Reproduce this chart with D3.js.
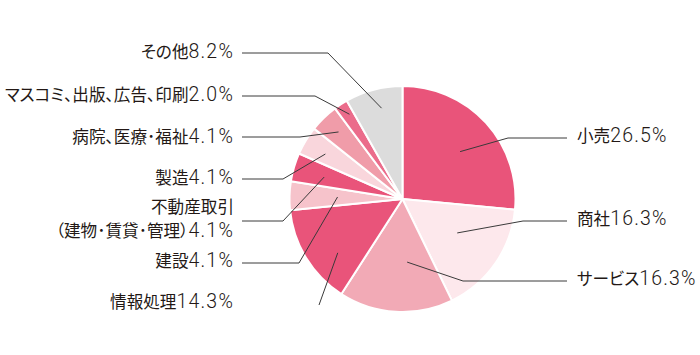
<!DOCTYPE html>
<html><head><meta charset="utf-8">
<script src="https://cdn.jsdelivr.net/npm/d3@7"></script>
<style>
html,body{margin:0;padding:0;background:#fff;}
svg{display:block;}
.jp{font-family:"Noto Sans CJK JP","Noto Sans",sans-serif;font-size:16.6px;font-feature-settings:"palt";}
.num{font-family:Roboto,"Liberation Sans",Arial,sans-serif;font-weight:300;font-size:19.5px;letter-spacing:1.2px;}
</style></head><body>
<svg id="chart" width="700" height="355"></svg>
<script>
// ---- data ----
const categories = ["小売","商社","サービス","情報処理","建設","不動産取引\n（建物･賃貸･管理）","製造","病院、医療･福祉","マスコミ、出版、広告、印刷","その他"];
const values = [26.5,16.3,16.3,14.3,4.1,4.1,4.1,4.1,2.0,8.2];
const valueLabels = ["26.5%","16.3%","16.3%","14.3%","4.1%","4.1%","4.1%","4.1%","2.0%","8.2%"];

// ---- styles / layout ----
const colors = ["#e9547a","#fde8ec","#f2aab6","#e9547a","#f6c3cb","#e9547a","#f9d6dc","#f09ca9","#eb6c8b","#dcdcdc"];
const side = ["r","r","r","l","l","l","l","l","l","l"];
const lineY = [138,221,281,305,263,221,179,137,96,53];
const elbowX = [508,523,463,319,299,283,283,300,315,328];
const anchorR = [0.66,0.57,0.56,0.745,0.575,0.72,0.79,0.82,0.885,0.825];
const anchorT = [0.53,0.45,0.37,0.34,0.51,0.45,0.44,0.53,0.65,0.56];
const baseY = [142,225,285,308,267,237,184,143,101,58];

const svg = d3.select("#chart");
const cx = 402.5, cy = 199, R = 113;
const g = svg.append("g").attr("transform",`translate(${cx},${cy})`);
const pie = d3.pie().sort(null).value(d=>d);
const arcs = pie(values);
const arc = d3.arc().innerRadius(0).outerRadius(R);

g.selectAll("path.slice").data(arcs).join("path")
  .attr("class","slice")
  .attr("d",arc)
  .attr("fill",(d,i)=>colors[i])
  .attr("stroke","#fff").attr("stroke-width",2).attr("stroke-linejoin","round");

// leader lines
const rightX = 567, leftX = 242;
arcs.forEach((d,i)=>{
  const a = d.startAngle + (d.endAngle-d.startAngle)*anchorT[i];
  const r = R*anchorR[i];
  const px = cx + r*Math.sin(a), py = cy - r*Math.cos(a);
  const pts = [[px,py],[elbowX[i],lineY[i]]];
  if (i !== 3) pts.push([side[i]==="r"?rightX:leftX, lineY[i]]);
  svg.append("path").attr("d",d3.line()(pts))
    .attr("fill","none").attr("stroke","#3a3a3a").attr("stroke-width",1);
});

// labels
categories.forEach((c,i)=>{
  const parts = c.split("\n");
  const isR = side[i]==="r";
  const x = isR ? 577 : 234;
  if (parts.length>1){
    svg.append("text").attr("class","jp").attr("x",x).attr("y",213)
      .attr("text-anchor","end").attr("fill","#231815").text(parts[0]);
  }
  const t = svg.append("text").attr("x",x).attr("y",baseY[i])
    .attr("text-anchor",isR?"start":"end").attr("fill","#231815");
  t.append("tspan").attr("class","jp").text(parts[parts.length-1]);
  t.append("tspan").attr("class","num").text(valueLabels[i]);
});
</script>
</body></html>
